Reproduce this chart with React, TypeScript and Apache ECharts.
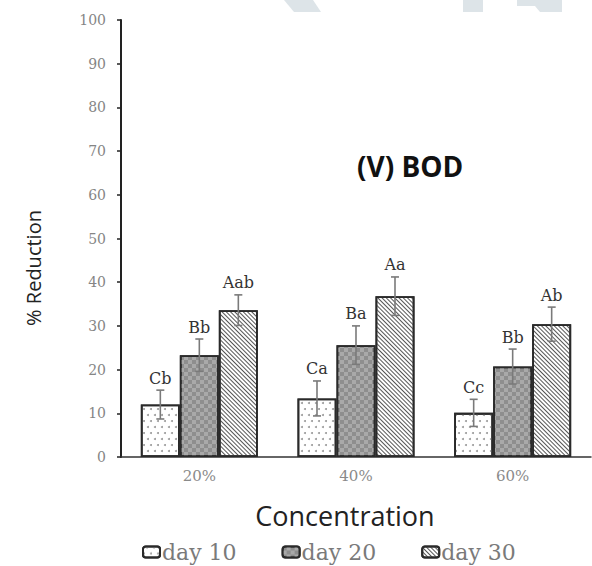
import React, { useEffect, useRef } from "react";
import * as echarts from "echarts";

const categories = ["20%", "40%", "60%"];
const seriesNames = ["day 10", "day 20", "day 30"];
const day10 = [12.0, 13.4, 10.1];
const day20 = [23.3, 25.6, 20.7];
const day30 = [33.6, 36.8, 30.4];
const err10 = [3.3, 4.0, 3.1];
const err20 = [3.7, 4.4, 4.0];
const err30 = [3.5, 4.4, 3.9];
const letters10 = ["Cb", "Ca", "Cc"];
const letters20 = ["Bb", "Ba", "Bb"];
const letters30 = ["Aab", "Aa", "Ab"];

const BAR_W = 39;

export default function App() {
  const ref = useRef<HTMLDivElement>(null);
  useEffect(() => {
    if (!ref.current) return;
    const chart = echarts.init(ref.current, null, { renderer: "svg" });
    const values = [day10, day20, day30];
    const errs = [err10, err20, err30];
    const letters = [letters10, letters20, letters30];

    const decals: any[] = [
      {
        symbol: "circle",
        symbolSize: 1,
        color: "#9a9a9a",
        backgroundColor: "#ffffff",
        dashArrayX: [[1.2, 5], [0, 3, 1.2, 1.8]],
        dashArrayY: [1.2, 4],
      },
      {
        symbol: "rect",
        symbolSize: 1,
        color: "#a9a9a9",
        backgroundColor: "#8e8e8e",
        dashArrayX: [[4, 4], [0, 4, 4, 0]],
        dashArrayY: [4, 0],
      },
      {
        symbol: "rect",
        symbolSize: 1,
        color: "#555555",
        backgroundColor: "#ffffff",
        dashArrayX: [1, 0],
        dashArrayY: [1, 2],
        rotation: Math.PI / 4,
      },
    ];
    const fills = ["#ffffff", "#8e8e8e", "#ffffff"];

    const barSeries = seriesNames.map((name, s) => ({
      name,
      type: "bar",
      data: values[s],
      barWidth: BAR_W,
      barGap: "0%",
      itemStyle: {
        color: fills[s],
        borderColor: "#2a2a2a",
        borderWidth: 1.8,
        decal: decals[s],
      },
      z: 2,
    }));

    const errSeries = seriesNames.map((name, s) => ({
      name: name + " err",
      type: "custom",
      z: 5,
      clip: false,
      data: categories.map((_, i) => [i, values[s][i], errs[s][i]]),
      renderItem: (params: any, api: any) => {
        const i = api.value(0);
        const v = api.value(1);
        const e = api.value(2);
        const lbl = letters[s][params.dataIndex];
        const off = (s - 1) * BAR_W;
        const top = api.coord([i, v + e]);
        const bot = api.coord([i, v - e]);
        const x = top[0] + off;
        const cap = 4;
        const ls = { stroke: "#7a7a7a", lineWidth: 1.6 };
        return {
          type: "group",
          children: [
            { type: "line", shape: { x1: x, y1: top[1], x2: x, y2: bot[1] }, style: ls },
            { type: "line", shape: { x1: x - cap, y1: top[1], x2: x + cap, y2: top[1] }, style: ls },
            { type: "line", shape: { x1: x - cap, y1: bot[1], x2: x + cap, y2: bot[1] }, style: ls },
            {
              type: "text",
              style: {
                text: lbl,
                x: x,
                y: top[1] - 4,
                align: "center",
                verticalAlign: "bottom",
                font: "16px 'DejaVu Serif'",
                fill: "#333333",
              },
            },
          ],
        };
      },
    }));

    chart.setOption({
      animation: false,
      backgroundColor: "#ffffff",
      grid: { left: 121, right: 1, top: 20, bottom: 109, containLabel: false },
      legend: {
        data: seriesNames,
        top: 536,
        left: 137,
        itemWidth: 17,
        itemHeight: 11,
        itemGap: 45,
        icon: "roundRect",
        textStyle: { fontFamily: "DejaVu Serif", fontSize: 22, color: "#7a7a7a", padding: [0, 0, 0, -3] },
      },
      xAxis: {
        type: "category",
        data: categories,
        axisLine: { lineStyle: { color: "#333333", width: 1.5 } },
        axisTick: { show: false },
        axisLabel: { fontFamily: "DejaVu Serif", fontSize: 15, color: "#8a8a8a", margin: 11 },
      },
      yAxis: {
        type: "value",
        min: 0,
        max: 100,
        interval: 10,
        axisLine: { show: true, lineStyle: { color: "#222222", width: 2 } },
        axisTick: { show: true, length: 4, lineStyle: { color: "#222222", width: 1.5 } },
        splitLine: { show: false },
        axisLabel: { fontFamily: "DejaVu Serif", fontSize: 14, color: "#858585", margin: 15 },
      },
      graphic: [
        { type: "polygon", shape: { points: [[284, 0], [313, 0], [321, 12], [294, 12]] }, style: { fill: "#dde4e8" }, silent: true, z: -1 },
        { type: "rect", shape: { x: 463, y: 0, width: 20, height: 12 }, style: { fill: "#dde4e8" }, silent: true, z: -1 },
        { type: "polygon", shape: { points: [[517, 0], [562, 0], [562, 12], [540, 12], [535, 6], [517, 6]] }, style: { fill: "#dde4e8" }, silent: true, z: -1 },
        {
          type: "text",
          x: 357,
          y: 166,
          style: {
            text: "(V) BOD",
            font: "bold 28px 'Open Sans'",
            fill: "#111111",
            verticalAlign: "middle",
          },
        },
        {
          type: "text",
          x: 345,
          y: 515,
          style: {
            text: "Concentration",
            font: "27px 'Open Sans'",
            fill: "#222222",
            align: "center",
            verticalAlign: "middle",
          },
        },
        {
          type: "text",
          x: 33,
          y: 268,
          rotation: Math.PI / 2,
          style: {
            text: "% Reduction",
            font: "20px 'Open Sans'",
            fill: "#222222",
            align: "center",
            verticalAlign: "middle",
          },
        },
      ],
      series: [...barSeries, ...errSeries],
    });
    return () => chart.dispose();
  }, []);
  return <div ref={ref} style={{ width: 592, height: 566, position: "absolute", left: 0, top: 0 }} />;
}
